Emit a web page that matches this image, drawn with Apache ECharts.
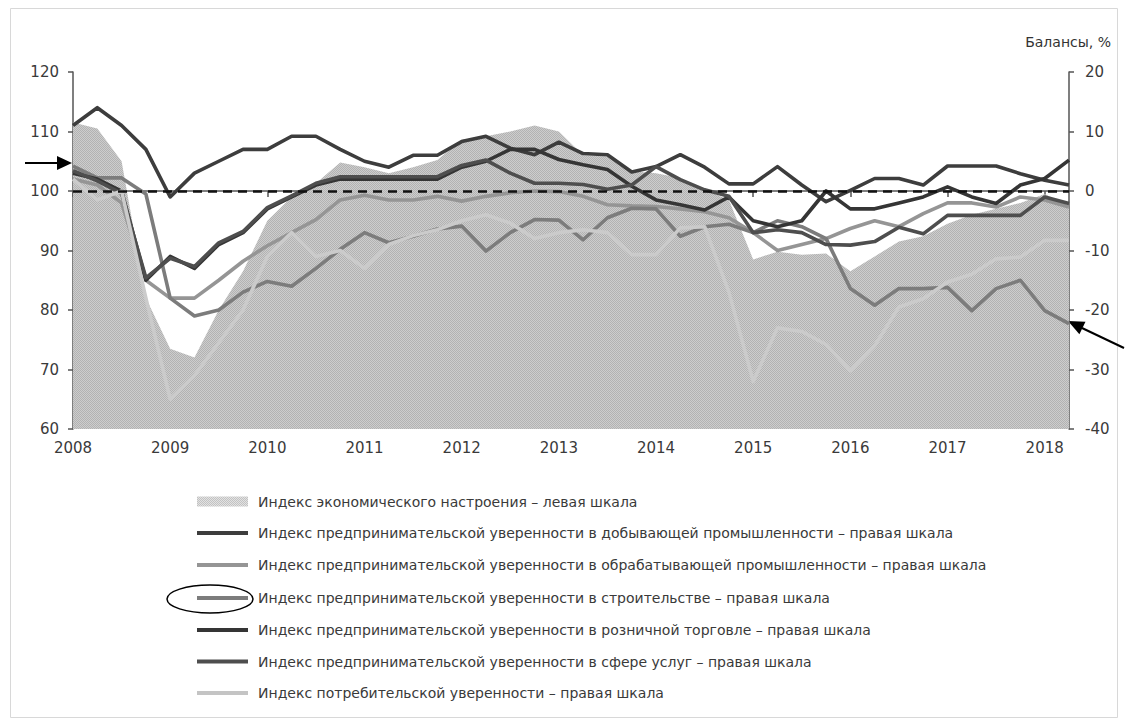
<!DOCTYPE html>
<html>
<head>
<meta charset="utf-8">
<script src="https://cdn.jsdelivr.net/npm/echarts@6/dist/echarts.min.js"></script>
<style>html,body{margin:0;padding:0;background:#fff}#c{width:1128px;height:726px}</style>
</head>
<body>
<div id="c"></div>
<script>
// ---- data (quarterly, 2008 Q1 .. 2018 Q2) ----
const years = ['2008','2009','2010','2011','2012','2013','2014','2015','2016','2017','2018'];
const quartersCount = 42;
const leftTicks = [60, 70, 80, 90, 100, 110, 120];
const rightTicks = [-40, -30, -20, -10, 0, 10, 20];

// left scale
const esi = [111.5,110.5,105,82, 73.5,72,80,86.5, 95,99,101.3,104.8, 104,103,104,105.2, 108.6,109.2,110,111, 110,106,105.8,103.3, 103,102.2,100.2,98.5, 88.5,89.8,89.3,89.5, 86.5,89,91.5,92.4, 94.5,96,97,98, 99.5,97.5];
// right scale
const mining = [11,14,11,7, -1,3,5,7, 7,9.2,9.2,7, 5,4,6,6, 8.3,9.2,7.2,6.1, 8.2,6.3,6.1,3.2, 4.1,6.1,4,1.2, 1.2,4.1,1,-1.8, 0.1,2.1,2.1,1, 4.2,4.2,4.2,2.9, 1.8,1];
const manufacturing = [2,1,-2,-15, -18,-18,-15,-11.8, -9.2,-7,-4.8,-1.5, -0.7,-1.5,-1.5,-0.9, -1.7,-0.9,-0.3,0, -0.1,-0.9,-2.3,-2.5, -2.6,-3,-3.5,-4.5, -7,-10,-9,-8, -6.3,-5,-6,-3.8, -2,-2,-2.7,-1, -1.5,-2.7];
const construction = [4.2,2.2,2.2,-0.5, -18,-21,-20,-17, -15.2,-16,-13,-9.8, -7,-8.7,-7.6,-6.4, -5.9,-10.1,-7,-4.8, -4.9,-8.2,-4.5,-2.9, -3,-7.6,-6,-5.6, -7,-5,-6,-8, -16.4,-19.2,-16.4,-16.4, -16.2,-20.1,-16.4,-15, -20.1,-22.3];
const retail = [3,2,0,-15, -11,-13,-9,-7, -3,-1,1,2, 2,2,2,2, 4,5,7,7, 5.3,4.4,3.6,0.8, -1.5,-2.3,-3.2,-1, -5,-6,-5,0, -3,-3,-2,-1, 0.7,-1,-2.1,1, 2.1,5.2];
const services = [3.4,1.7,-0.4,-14.6, -11.3,-12.7,-8.7,-6.8, -2.8,-0.8,1.3,2.4, 2.4,2.4,2.4,2.4, 4.3,5.2,3,1.3, 1.3,1.1,0.3,1, 4.1,1.9,0.2,-0.9, -7,-6.5,-7,-9, -9.1,-8.5,-6.1,-7.2, -4.1,-4.1,-4.1,-4.1, -1,-2.1];
const consumer = [2,-1.5,0,-18, -35,-31,-25.5,-20, -11,-7,-11,-10, -13,-9,-7.5,-6.5, -5,-4,-5.4,-8, -7,-6.5,-7,-10.7, -10.7,-6.2,-6,-17, -32,-23,-23.6,-25.8, -30.2,-26,-19.5,-18.1, -15.3,-14,-11.4,-11.1, -8.3,-8.3];

const legendNames = [
  'Индекс экономического настроения – левая шкала',
  'Индекс предпринимательской уверенности в добывающей промышленности – правая шкала',
  'Индекс предпринимательской уверенности в обрабатывающей промышленности – правая шкала',
  'Индекс предпринимательской уверенности в строительстве – правая шкала',
  'Индекс предпринимательской уверенности в розничной торговле – правая шкала',
  'Индекс предпринимательской уверенности в сфере услуг – правая шкала',
  'Индекс потребительской уверенности – правая шкала'
];
const rightAxisTitle = 'Балансы, %';

// ---- build ----
const categories = [];
for (let i = 0; i < quartersCount; i++) {
  categories.push(years[Math.floor(i / 4)] + ' Q' + (i % 4 + 1));
}

function makePattern(base, dot) {
  const c = document.createElement('canvas');
  c.width = 2; c.height = 2;
  const g = c.getContext('2d');
  g.fillStyle = base; g.fillRect(0, 0, 2, 2);
  g.fillStyle = dot; g.fillRect(0, 0, 1, 1); g.fillRect(1, 1, 1, 1);
  return { image: c.toDataURL(), repeat: 'repeat', imageWidth: 2, imageHeight: 2 };
}
const areaPattern = makePattern('#cdcdcd', '#b2b2b2');
const legendPattern = makePattern('#e2e2e2', '#c2c2c2');

const colors = {
  mining: '#3d3d3d',
  manufacturing: '#959595',
  construction: '#7c7c7c',
  retail: '#353535',
  services: '#4e4e4e',
  consumer: '#cbcbcb'
};
const FONT = '"DejaVu Sans", Verdana, sans-serif';
const axisColor = '#555';

function lineSeries(name, data, color) {
  return {
    name, type: 'line', yAxisIndex: 1, data,
    symbol: 'none', smooth: false,
    lineStyle: { color, width: 3.6, join: 'round' },
    itemStyle: { color },
    animation: false
  };
}

const series = [
  {
    name: legendNames[0], type: 'line', yAxisIndex: 0, data: esi,
    symbol: 'none', lineStyle: { width: 0, color: '#c6c6c6' },
    areaStyle: { color: areaPattern, opacity: 1, origin: 'start' },
    animation: false
  },
  lineSeries(legendNames[1], mining, colors.mining),
  lineSeries(legendNames[2], manufacturing, colors.manufacturing),
  lineSeries(legendNames[3], construction, colors.construction),
  lineSeries(legendNames[4], retail, colors.retail),
  lineSeries(legendNames[5], services, colors.services),
  lineSeries(legendNames[6], consumer, colors.consumer)
];
series[series.length - 1].markLine = {
  silent: true, symbol: ['none', 'none'], label: { show: false },
  lineStyle: { color: '#111', width: 2.5, type: [9, 6] },
  data: [{ yAxis: 0 }],
  animation: false
};

// legend as graphic elements
const legendColors = [null, colors.mining, colors.manufacturing, colors.construction, colors.retail, colors.services, '#c4c4c4'];
const rowY = [501.5, 533, 565, 598, 630, 661.5, 693];
const graphic = [];
graphic.push({ type: 'rect', shape: { x: 10.5, y: 8.5, width: 1107, height: 709 }, style: { fill: 'none', stroke: '#d8d8d8', lineWidth: 1 }, silent: true });
legendNames.forEach((name, k) => {
  if (k === 0) {
    graphic.push({ type: 'rect', shape: { x: 197, y: rowY[k] - 5, width: 51, height: 10 }, style: { fill: legendPattern }, silent: true });
  } else {
    graphic.push({ type: 'line', shape: { x1: 197, y1: rowY[k], x2: 248, y2: rowY[k] }, style: { stroke: legendColors[k], lineWidth: 4 }, silent: true });
  }
  graphic.push({ type: 'text', style: { text: name, x: 258, y: rowY[k], font: '14px ' + FONT, fill: '#3a3a3a', verticalAlign: 'middle', align: 'left' }, silent: true });
});
// ellipse around construction legend symbol
graphic.push({ type: 'ellipse', shape: { cx: 210, cy: 599, rx: 43, ry: 14 }, style: { fill: 'none', stroke: '#000', lineWidth: 1.5 }, silent: true });
// right axis title
graphic.push({ type: 'text', style: { text: rightAxisTitle, x: 1111, y: 42, font: '14px ' + FONT, fill: '#333', verticalAlign: 'middle', align: 'right' }, silent: true });
// left arrow
graphic.push({ type: 'line', shape: { x1: 25, y1: 163, x2: 60, y2: 163 }, style: { stroke: '#000', lineWidth: 2 }, silent: true });
graphic.push({ type: 'polygon', shape: { points: [[72, 163], [57, 156], [57, 170]] }, style: { fill: '#000' }, silent: true });
// right arrow
graphic.push({ type: 'line', shape: { x1: 1124, y1: 348, x2: 1082, y2: 328 }, style: { stroke: '#000', lineWidth: 2 }, silent: true });
graphic.push({ type: 'polygon', shape: { points: [[1068, 321], [1085.5, 321.7], [1079.4, 334.3]] }, style: { fill: '#000' }, silent: true });

const yearTick = (index) => index % 4 === 0;

const option = {
  backgroundColor: '#fff',
  animation: false,
  grid: { left: 73, right: 59, top: 72, bottom: 297, containLabel: false },
  xAxis: {
    type: 'category', data: categories, boundaryGap: false,
    axisLine: { show: true, lineStyle: { color: axisColor, width: 1.5 } },
    axisTick: { show: true, interval: yearTick, length: 6, lineStyle: { color: axisColor, width: 1.5 } },
    axisLabel: { interval: yearTick, formatter: (v) => v.slice(0, 4), color: '#3a3a3a', fontFamily: FONT, fontSize: 15, margin: 11 },
    splitLine: { show: false }
  },
  yAxis: [
    {
      type: 'value', min: leftTicks[0], max: leftTicks[leftTicks.length - 1], interval: 10, position: 'left',
      axisLine: { show: true, lineStyle: { color: axisColor, width: 1.5 } },
      axisTick: { show: true, length: 5, lineStyle: { color: axisColor, width: 1.5 } },
      axisLabel: { color: '#3a3a3a', fontFamily: FONT, fontSize: 15, margin: 14 },
      splitLine: { show: false }
    },
    {
      type: 'value', min: rightTicks[0], max: rightTicks[rightTicks.length - 1], interval: 10, position: 'right',
      axisLine: { show: true, lineStyle: { color: axisColor, width: 1.5 } },
      axisTick: { show: true, length: 5, lineStyle: { color: axisColor, width: 1.5 } },
      axisLabel: { color: '#3a3a3a', fontFamily: FONT, fontSize: 15, margin: 16 },
      splitLine: { show: false }
    }
  ],
  series,
  graphic
};

const chart = echarts.init(document.getElementById('c'), null, { renderer: 'svg', width: 1128, height: 726 });
chart.setOption(option);
</script>
</body>
</html>
